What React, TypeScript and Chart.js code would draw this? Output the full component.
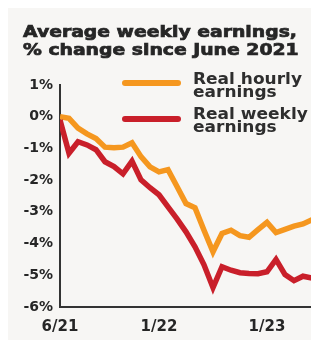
import React, { useEffect, useRef } from "react";
import { Chart, registerables } from "chart.js";

Chart.register(...registerables);

const titleLines = ["Average weekly earnings,", "% change since June 2021"];
const hourlyName = ["Real hourly", "earnings"];
const weeklyName = ["Real weekly", "earnings"];

const hourly = [
  0, -0.05, -0.36, -0.54, -0.69, -0.96, -0.98, -0.96, -0.82, -1.26, -1.58, -1.74,
  -1.67, -2.2, -2.74, -2.87, -3.58, -4.26, -3.68, -3.58, -3.75, -3.8, -3.56, -3.33,
  -3.65, -3.55, -3.45, -3.38, -3.25,
];
const weekly = [
  -0.1, -1.15, -0.79, -0.89, -1.04, -1.42, -1.57, -1.8, -1.4, -1.99, -2.24, -2.46,
  -2.84, -3.22, -3.63, -4.1, -4.67, -5.39, -4.73, -4.84, -4.92, -4.94, -4.95, -4.89,
  -4.5, -4.98, -5.17, -5.03, -5.09,
];
const xTickIndex = [0, 11, 23];
const xTickLabels = ["6/21", "1/22", "1/23"];
const yMin = -6;
const yMax = 1;

const ORANGE = "#f5971f";
const RED = "#c91f2a";
const INK = "#262626";
const BG = "#f7f6f4";

function drawScaled(ctx: CanvasRenderingContext2D, text: string, x: number, y: number, sx: number) {
  ctx.save();
  ctx.translate(x, y);
  ctx.scale(sx, 1);
  ctx.fillText(text, 0, 0);
  ctx.restore();
}

export default function App() {
  const ref = useRef<HTMLCanvasElement>(null);

  useEffect(() => {
    const overlay = {
      id: "overlay",
      afterDraw(chart: any) {
        const ctx: CanvasRenderingContext2D = chart.ctx;
        ctx.save();
        ctx.textBaseline = "alphabetic";
        ctx.textAlign = "left";
        ctx.fillStyle = INK;
        // title
        ctx.font = "bold 16px 'DejaVu Sans'";
        const tw = ctx.measureText(titleLines[0]).width;
        const tsx = 274 / tw;
        ctx.strokeStyle = INK;
        ctx.lineWidth = 0.7;
        titleLines.forEach((t, i) => {
          ctx.save();
          ctx.translate(15, 28.7 + i * 18.5);
          ctx.scale(tsx, 1);
          ctx.fillText(t, 0, 0);
          ctx.strokeText(t, 0, 0);
          ctx.restore();
        });
        // legend
        ctx.lineCap = "round";
        ctx.lineWidth = 6;
        ctx.strokeStyle = ORANGE;
        ctx.beginPath();
        ctx.moveTo(117, 75);
        ctx.lineTo(170, 75);
        ctx.stroke();
        ctx.strokeStyle = RED;
        ctx.beginPath();
        ctx.moveTo(117, 111);
        ctx.lineTo(170, 111);
        ctx.stroke();
        ctx.font = "bold 15px 'DejaVu Sans'";
        const lw = ctx.measureText(hourlyName[0]).width;
        const lsx = 109 / lw;
        ctx.fillStyle = "#2e2e2e";
        drawScaled(ctx, hourlyName[0], 185, 76, lsx);
        drawScaled(ctx, hourlyName[1], 185, 88.5, lsx);
        drawScaled(ctx, weeklyName[0], 185, 111.3, lsx);
        drawScaled(ctx, weeklyName[1], 185, 123.7, lsx);
        ctx.restore();
      },
    };

    const chart = new Chart(ref.current as HTMLCanvasElement, {
      type: "line",
      data: {
        datasets: [
          {
            label: hourlyName.join(" "),
            data: hourly.map((v, i) => ({ x: i, y: v })),
            borderColor: ORANGE,
            borderWidth: 5.5,
            pointRadius: 0,
            tension: 0,
            order: 1,
          },
          {
            label: weeklyName.join(" "),
            data: weekly.map((v, i) => ({ x: i, y: v })),
            borderColor: RED,
            borderWidth: 5.5,
            pointRadius: 0,
            tension: 0,
            order: 0,
          },
        ],
      },
      options: {
        animation: false,
        responsive: true,
        maintainAspectRatio: false,
        layout: { padding: { left: 0, right: 7, top: 77, bottom: 4 } },
        plugins: {
          legend: { display: false },
          title: { display: false },
          tooltip: { enabled: false },
        },
        scales: {
          x: {
            type: "linear",
            min: 0,
            max: hourly.length - 1,
            grid: { display: false, drawTicks: false },
            border: { display: true, color: "#333", width: 2 },
            afterBuildTicks: (scale: any) => {
              scale.ticks = xTickIndex.map((v) => ({ value: v }));
            },
            afterFit: (scale: any) => {
              scale.height = 29;
            },
            ticks: {
              autoSkip: false,
              maxRotation: 0,
              padding: 11,
              color: INK,
              font: { family: "'DejaVu Sans'", size: 15, weight: "bold" },
              callback: (v: any) => {
                const k = xTickIndex.indexOf(Number(v));
                return k >= 0 ? xTickLabels[k] : "";
              },
            },
          },
          y: {
            min: yMin,
            max: yMax,
            grid: { display: false, drawTicks: false },
            border: { display: true, color: "#333", width: 2 },
            afterFit: (scale: any) => {
              scale.width = 52;
            },
            ticks: {
              stepSize: 1,
              padding: 7,
              color: INK,
              font: { family: "'DejaVu Sans'", size: 14, weight: "bold" },
              callback: (v: any) => `${v}%`,
            },
          },
        },
      },
      plugins: [overlay],
    });
    return () => chart.destroy();
  }, []);

  return (
    <div style={{ width: 311, height: 332, background: BG, position: "relative" }}>
      <canvas ref={ref} />
    </div>
  );
}
